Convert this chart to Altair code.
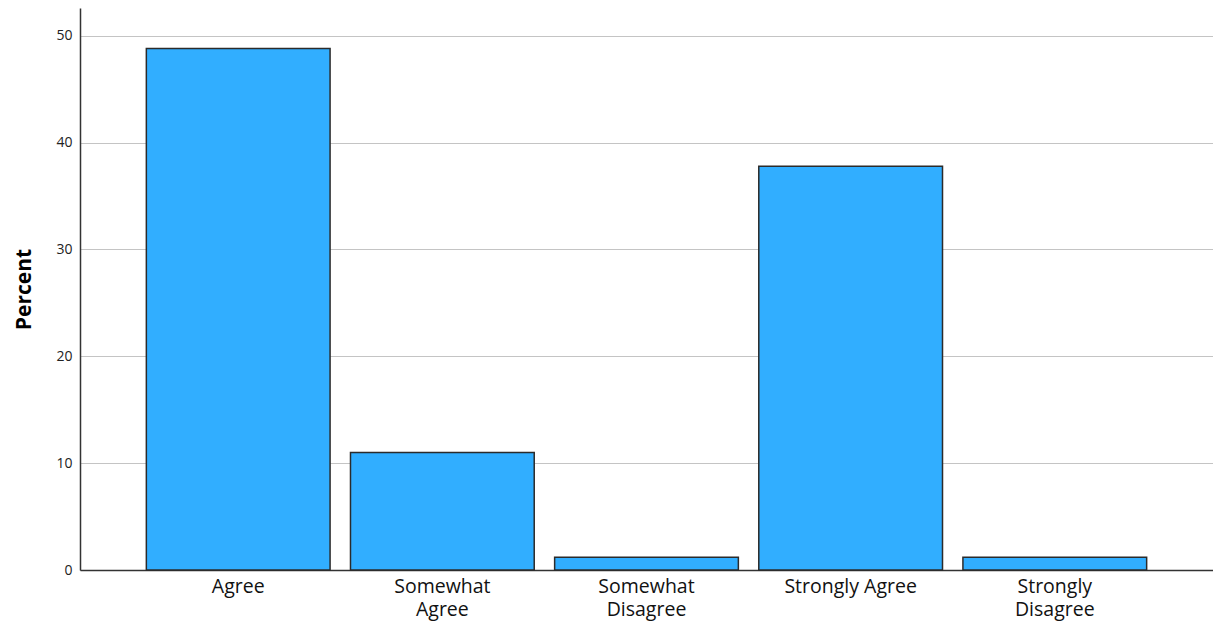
import altair as alt
import pandas as pd

categories = ["Agree", "Somewhat Agree", "Somewhat Disagree", "Strongly Agree", "Strongly Disagree"]
labels = ["Agree", "Somewhat\nAgree", "Somewhat\nDisagree", "Strongly Agree", "Strongly\nDisagree"]
percents = [48.8, 11.0, 1.2, 37.8, 1.2]
y_ticks = [0, 10, 20, 30, 40, 50]

df = pd.DataFrame({"category": categories, "label": labels, "percent": percents})

FONT = "Open Sans"

chart = alt.Chart(df).mark_bar(
    color="#31AEFF", stroke="#2b2b2b", strokeWidth=1.5
).encode(
    x=alt.X(
        "label:N",
        sort=labels,
        title=None,
        scale=alt.Scale(paddingInner=0.1, paddingOuter=0.325),
        axis=alt.Axis(
            labelAngle=0,
            labelExpr="split(datum.label, '\\n')",
            labelFont=FONT,
            labelFontSize=19.5,
            labelColor="#111111",
            labelLineHeight=23,
            labelPadding=7,
            ticks=False,
            domainColor="#333333",
            domainWidth=1.5,
            grid=False,
        ),
    ),
    y=alt.Y(
        "percent:Q",
        title="Percent",
        scale=alt.Scale(domain=[0, 52.6], nice=False),
        axis=alt.Axis(
            values=y_ticks,
            labelFont=FONT,
            labelFontSize=14,
            labelColor="#222222",
            labelPadding=8,
            ticks=False,
            domainColor="#333333",
            domainWidth=1.5,
            gridColor="#c4c4c4",
            gridWidth=1.2,
            titleFont=FONT,
            titleFontSize=21,
            titleFontWeight="bold",
            titleColor="#000000",
            titlePadding=21,
        ),
    ),
).properties(
    width=1133,
    height=562,
    autosize=alt.AutoSizeParams(type="none"),
    padding={"left": 72, "top": 0, "right": 0, "bottom": 53},
).configure_view(stroke=None)

chart.save("out.html", embed_options={"renderer": "svg", "actions": False})
